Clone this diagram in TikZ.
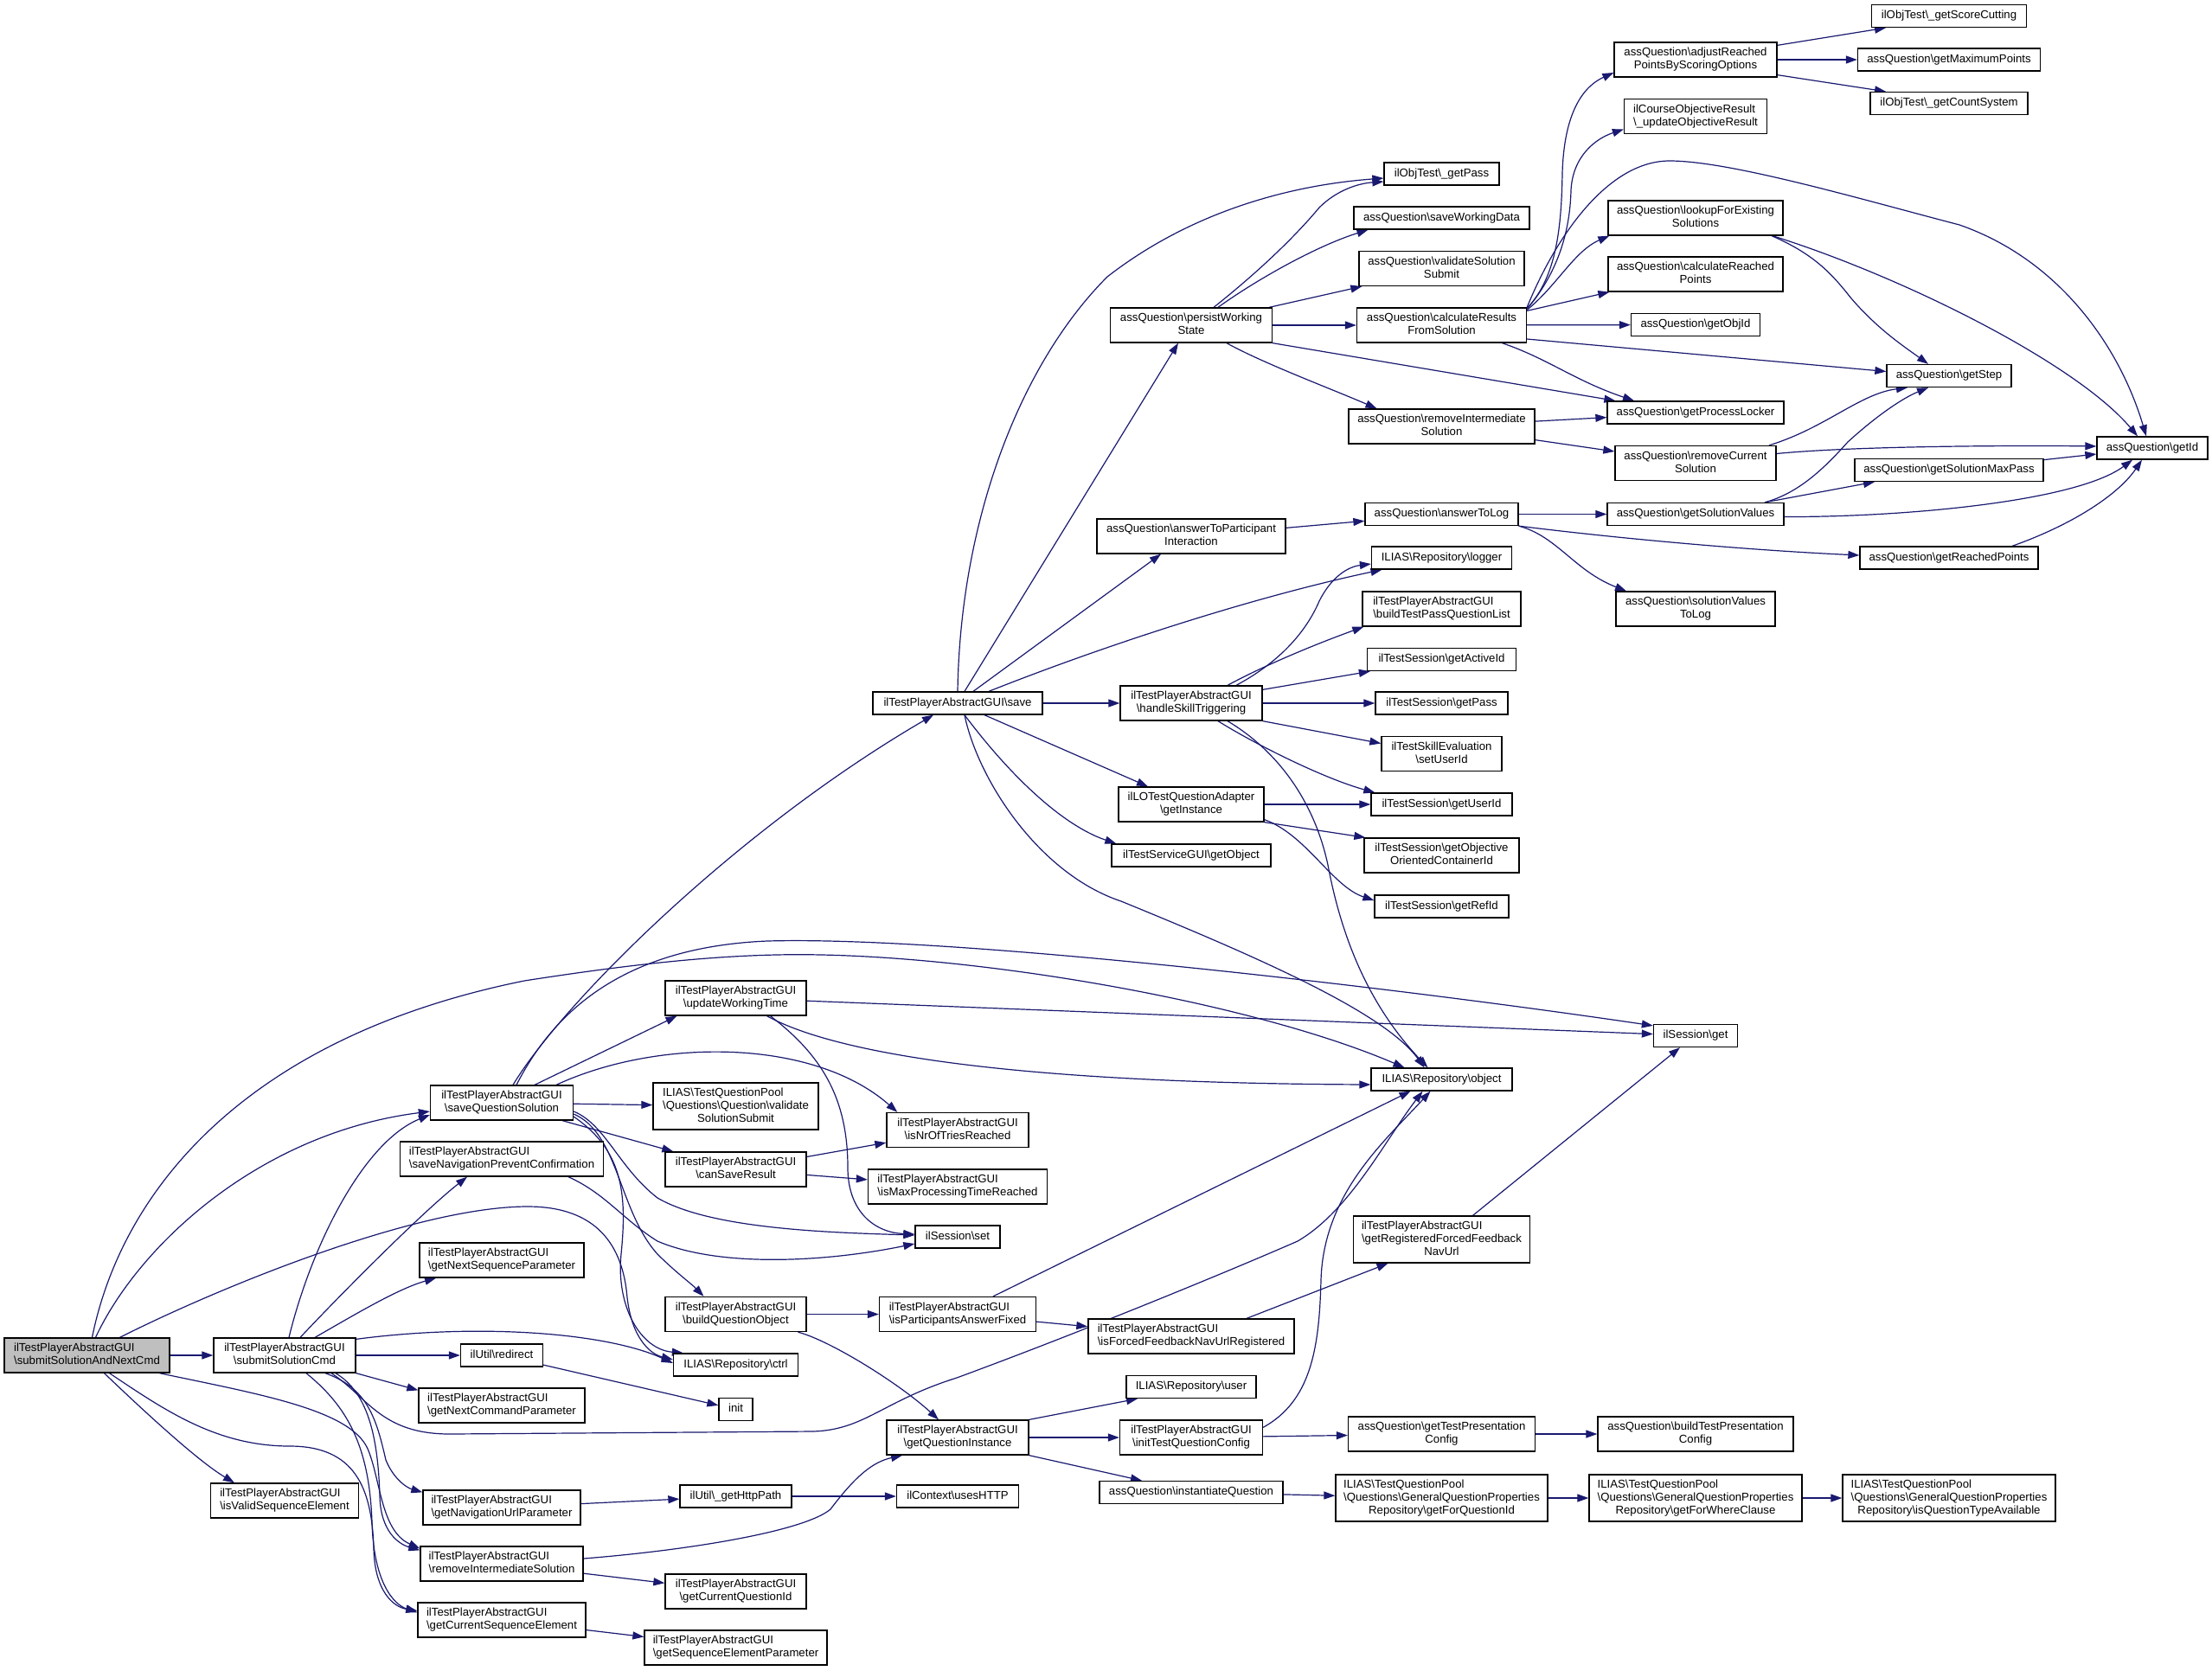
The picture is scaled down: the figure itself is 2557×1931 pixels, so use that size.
\documentclass[tikz,border=0pt]{standalone}
\usepackage{fontspec}
\setmainfont{Liberation Sans}
\usetikzlibrary{arrows.meta}
\definecolor{edgeblue}{HTML}{191970}
\definecolor{rootgray}{HTML}{BFBFBF}
\newcommand{\bs}{\textbackslash}
\newlength\lwA\newlength\lwB
\newcommand\TL[2]{\settowidth\lwA{#1}\settowidth\lwB{#2}\ifdim\lwB>\lwA\lwA=\lwB\fi\begin{tabular}{@{}l@{}}#1\\\makebox[\lwA][c]{#2}\end{tabular}}
\newcommand\TLL[3]{\settowidth\lwA{#1}\settowidth\lwB{#2}\ifdim\lwB>\lwA\lwA=\lwB\fi\settowidth\lwB{#3}\ifdim\lwB>\lwA\lwA=\lwB\fi\begin{tabular}{@{}l@{}}#1\\#2\\\makebox[\lwA][c]{#3}\end{tabular}}
\newcommand\OL[1]{\begin{tabular}{@{}c@{}}#1\end{tabular}}
\pgfdeclarelayer{bgl}\pgfdeclarelayer{edges}\pgfsetlayers{bgl,edges,main}
\tikzset{
 box/.style={draw=black, line width=1.3pt, fill=white, inner sep=0pt, minimum height=26pt, font=\fontsize{13.2}{15}\selectfont},
 h2/.style={minimum height=40pt},
 h3/.style={minimum height=54pt},
 root/.style={fill=rootgray},
 edg/.style={draw=edgeblue, line width=1.2pt, -{Triangle[length=13pt,width=9pt]}},
}
\begin{document}
\begin{tikzpicture}[x=1pt,y=-1pt]
\useasboundingbox (0,0) rectangle (2557,1931);
\begin{pgfonlayer}{bgl}\fill[white] (0,0) rectangle (2557,1931);\end{pgfonlayer}
% column 0-2
\node[box,h2,root,minimum width=191] (A) at (100.5,1567) {\TL{ilTestPlayerAbstractGUI}{\bs submitSolutionAndNextCmd}};
\node[box,h2,minimum width=164] (sSC) at (329,1567) {\TL{ilTestPlayerAbstractGUI}{\bs submitSolutionCmd}};
\node[box,h2,minimum width=171] (isValid) at (329,1735) {\TL{ilTestPlayerAbstractGUI}{\bs isValidSequenceElement}};
\node[box,h2,minimum width=165] (saveQS) at (580,1275) {\TL{ilTestPlayerAbstractGUI}{\bs saveQuestionSolution}};
\node[box,h2,minimum width=235] (saveNav) at (580,1340) {\TL{ilTestPlayerAbstractGUI}{\bs saveNavigationPreventConfirmation}};
\node[box,h2,minimum width=190] (getNextSeq) at (580,1457) {\TL{ilTestPlayerAbstractGUI}{\bs getNextSequenceParameter}};
\node[box,minimum width=95] (redirect) at (580,1567) {\OL{ilUtil\bs redirect}};
\node[box,h2,minimum width=192] (getNextCmd) at (580,1625) {\TL{ilTestPlayerAbstractGUI}{\bs getNextCommandParameter}};
\node[box,h2,minimum width=182] (getNavUrl) at (580,1743) {\TL{ilTestPlayerAbstractGUI}{\bs getNavigationUrlParameter}};
\node[box,h2,minimum width=188] (removeIS) at (580,1808) {\TL{ilTestPlayerAbstractGUI}{\bs removeIntermediateSolution}};
\node[box,h2,minimum width=194] (getCurSeq) at (580,1873) {\TL{ilTestPlayerAbstractGUI}{\bs getCurrentSequenceElement}};
% column 3
\node[box,h2,minimum width=163] (updWT) at (850.5,1154) {\TL{ilTestPlayerAbstractGUI}{\bs updateWorkingTime}};
\node[box,h3,minimum width=191] (validate) at (850.5,1279) {\TLL{ILIAS\bs TestQuestionPool}{\bs Questions\bs Question\bs validate}{SolutionSubmit}};
\node[box,h2,minimum width=163] (canSave) at (850.5,1352) {\TL{ilTestPlayerAbstractGUI}{\bs canSaveResult}};
\node[box,h2,minimum width=163] (buildQO) at (850.5,1519.5) {\TL{ilTestPlayerAbstractGUI}{\bs buildQuestionObject}};
\node[box,minimum width=144] (ctrl) at (850.5,1578) {\OL{ILIAS\bs Repository\bs ctrl}};
\node[box,minimum width=39] (init) at (850.5,1629.5) {\OL{init}};
\node[box,minimum width=129] (httpPath) at (850.5,1730) {\OL{ilUtil\bs\_getHttpPath}};
\node[box,h2,minimum width=163] (curQId) at (850.5,1840) {\TL{ilTestPlayerAbstractGUI}{\bs getCurrentQuestionId}};
\node[box,h2,minimum width=211] (seqElemParam) at (850.5,1905) {\TL{ilTestPlayerAbstractGUI}{\bs getSequenceElementParameter}};
% column 4
\node[box,minimum width=196] (save) at (1107,813) {\OL{ilTestPlayerAbstractGUI\bs save}};
\node[box,h2,minimum width=164] (nrTries) at (1107,1306.5) {\TL{ilTestPlayerAbstractGUI}{\bs isNrOfTriesReached}};
\node[box,h2,minimum width=207] (maxProc) at (1107,1372) {\TL{ilTestPlayerAbstractGUI}{\bs isMaxProcessingTimeReached}};
\node[box,minimum width=98] (set) at (1107,1430) {\OL{ilSession\bs set}};
\node[box,h2,minimum width=181] (partFixed) at (1107,1519.5) {\TL{ilTestPlayerAbstractGUI}{\bs isParticipantsAnswerFixed}};
\node[box,h2,minimum width=164] (getQI) at (1107,1662) {\TL{ilTestPlayerAbstractGUI}{\bs getQuestionInstance}};
\node[box,minimum width=141] (usesHTTP) at (1107,1730) {\OL{ilContext\bs usesHTTP}};
% column 5
\node[box,h2,minimum width=187] (persist) at (1377,376) {\TL{assQuestion\bs persistWorking}{State}};
\node[box,h2,minimum width=218] (ansPart) at (1377,620) {\TL{assQuestion\bs answerToParticipant}{Interaction}};
\node[box,h2,minimum width=164] (handleSkill) at (1377,813) {\TL{ilTestPlayerAbstractGUI}{\bs handleSkillTriggering}};
\node[box,h2,minimum width=168] (loAdapter) at (1377,930) {\TL{ilLOTestQuestionAdapter}{\bs getInstance}};
\node[box,minimum width=184] (getObject) at (1377,989) {\OL{ilTestServiceGUI\bs getObject}};
\node[box,h2,minimum width=238] (isForced) at (1377,1545) {\TL{ilTestPlayerAbstractGUI}{\bs isForcedFeedbackNavUrlRegistered}};
\node[box,minimum width=150] (user) at (1377,1603.5) {\OL{ILIAS\bs Repository\bs user}};
\node[box,h2,minimum width=165] (initTQC) at (1377,1662) {\TL{ilTestPlayerAbstractGUI}{\bs initTestQuestionConfig}};
\node[box,minimum width=212] (instantiate) at (1377,1725.5) {\OL{assQuestion\bs instantiateQuestion}};
% column 6
\node[box,minimum width=133] (objGetPass) at (1666.5,201) {\OL{ilObjTest\bs\_getPass}};
\node[box,minimum width=203] (saveWD) at (1666.5,252) {\OL{assQuestion\bs saveWorkingData}};
\node[box,h2,minimum width=191] (valSS) at (1666.5,310.5) {\TL{assQuestion\bs validateSolution}{Submit}};
\node[box,h2,minimum width=196] (calcRes) at (1666.5,376) {\TL{assQuestion\bs calculateResults}{FromSolution}};
\node[box,h2,minimum width=215] (remIntAQ) at (1666.5,493) {\TL{assQuestion\bs removeIntermediate}{Solution}};
\node[box,minimum width=177] (ansLog) at (1666.5,594.5) {\OL{assQuestion\bs answerToLog}};
\node[box,minimum width=162] (logger) at (1666.5,645) {\OL{ILIAS\bs Repository\bs logger}};
\node[box,h2,minimum width=183] (buildTPQL) at (1666.5,704) {\TL{ilTestPlayerAbstractGUI}{\bs buildTestPassQuestionList}};
\node[box,minimum width=172] (activeId) at (1666.5,762.5) {\OL{ilTestSession\bs getActiveId}};
\node[box,minimum width=153] (tsGetPass) at (1666.5,813) {\OL{ilTestSession\bs getPass}};
\node[box,h2,minimum width=139] (setUserId) at (1666.5,871.5) {\TL{ilTestSkillEvaluation}{\bs setUserId}};
\node[box,minimum width=163] (getUserId) at (1666.5,930) {\OL{ilTestSession\bs getUserId}};
\node[box,h2,minimum width=179] (getObjective) at (1666.5,989) {\TL{ilTestSession\bs getObjective}{OrientedContainerId}};
\node[box,minimum width=155] (getRefId) at (1666.5,1048) {\OL{ilTestSession\bs getRefId}};
\node[box,minimum width=163] (object) at (1666.5,1248) {\OL{ILIAS\bs Repository\bs object}};
\node[box,h3,minimum width=204] (getRegForced) at (1666.5,1433) {\TLL{ilTestPlayerAbstractGUI}{\bs getRegisteredForcedFeedback}{NavUrl}};
\node[box,h2,minimum width=216] (getTPC) at (1666.5,1658) {\TL{assQuestion\bs getTestPresentation}{Config}};
\node[box,h3,minimum width=245] (getForQ) at (1666.5,1732) {\TLL{ILIAS\bs TestQuestionPool}{\bs Questions\bs GeneralQuestionProperties}{Repository\bs getForQuestionId}};
% column 7
\node[box,h2,minimum width=188] (adjust) at (1960,69) {\TL{assQuestion\bs adjustReached}{PointsByScoringOptions}};
\node[box,h2,minimum width=165] (courseObj) at (1960,134.5) {\TL{ilCourseObjectiveResult}{\bs\_updateObjectiveResult}};
\node[box,h2,minimum width=202] (lookup) at (1960,252) {\TL{assQuestion\bs lookupForExisting}{Solutions}};
\node[box,h2,minimum width=202] (calcReached) at (1960,317) {\TL{assQuestion\bs calculateReached}{Points}};
\node[box,minimum width=149] (getObjId) at (1960,375.5) {\OL{assQuestion\bs getObjId}};
\node[box,minimum width=204] (procLocker) at (1960,477) {\OL{assQuestion\bs getProcessLocker}};
\node[box,h2,minimum width=186] (remCur) at (1960,535.5) {\TL{assQuestion\bs removeCurrent}{Solution}};
\node[box,minimum width=204] (solValues) at (1960,594.5) {\OL{assQuestion\bs getSolutionValues}};
\node[box,h2,minimum width=184] (solToLog) at (1960,704) {\TL{assQuestion\bs solutionValues}{ToLog}};
\node[box,minimum width=97] (sessGet) at (1960,1197.5) {\OL{ilSession\bs get}};
\node[box,h2,minimum width=226] (buildTPC) at (1960,1658) {\TL{assQuestion\bs buildTestPresentation}{Config}};
\node[box,h3,minimum width=246] (getForWhere) at (1960,1732) {\TLL{ILIAS\bs TestQuestionPool}{\bs Questions\bs GeneralQuestionProperties}{Repository\bs getForWhereClause}};
% column 8-9
\node[box,minimum width=179] (scoreCut) at (2253,18.5) {\OL{ilObjTest\bs\_getScoreCutting}};
\node[box,minimum width=211] (maxPts) at (2253,69) {\OL{assQuestion\bs getMaximumPoints}};
\node[box,minimum width=182] (countSys) at (2253,119.5) {\OL{ilObjTest\bs\_getCountSystem}};
\node[box,minimum width=144] (getStep) at (2253,434.5) {\OL{assQuestion\bs getStep}};
\node[box,minimum width=218] (solMaxPass) at (2253,543.5) {\OL{assQuestion\bs getSolutionMaxPass}};
\node[box,minimum width=206] (reachedPts) at (2253,645) {\OL{assQuestion\bs getReachedPoints}};
\node[box,h3,minimum width=246] (isQTA) at (2253,1732) {\TLL{ILIAS\bs TestQuestionPool}{\bs Questions\bs GeneralQuestionProperties}{Repository\bs isQuestionTypeAvailable}};
\node[box,minimum width=128] (getId) at (2488,518) {\OL{assQuestion\bs getId}};

\begin{pgfonlayer}{edges}
% from root
\draw[edg] (A) -- (sSC);
\draw[edg] ([xshift=10]A.north) .. controls (160,1440) and (300,1310) .. ([yshift=-10]saveQS.west);
\draw[edg] ([xshift=6]A.north) .. controls (140,1380) and (280,1200) .. (606,1134) .. controls (760,1110) and (860,1102) .. (950,1104) .. controls (1150,1108) and (1450,1160) .. ([xshift=-43]object.north);
\draw[edg] ([xshift=38]A.north) .. controls (250,1490) and (480,1395) .. (610,1395) .. controls (690,1395) and (720,1440) .. (725,1500) .. controls (730,1545) and (750,1565) .. ([yshift=6]ctrl.west);
\draw[edg] ([xshift=20]A.south) .. controls (170,1635) and (230,1690) .. ([xshift=-58]isValid.north);
\draw[edg] ([xshift=84]A.south) .. controls (300,1612) and (405,1630) .. (425,1675) .. controls (440,1710) and (440,1770) .. ([yshift=-3]removeIS.north west);
\draw[edg] ([xshift=26]A.south) .. controls (190,1630) and (250,1672) .. (335,1672) .. controls (410,1672) and (430,1720) .. (432,1790) .. controls (433,1840) and (455,1858) .. ([yshift=-10]getCurSeq.north west);
% from submitSolutionCmd
\draw[edg] ([xshift=5]sSC.north) .. controls (360,1440) and (420,1320) .. ([yshift=-14]saveQS.west);
\draw[edg] ([xshift=18]sSC.north) .. controls (400,1490) and (490,1400) .. ([xshift=-40]saveNav.south);
\draw[edg] ([xshift=35]sSC.north) .. controls (410,1520) and (460,1490) .. ([xshift=-76]getNextSeq.south);
\draw[edg] ([yshift=-2]sSC.north east) .. controls (550,1530) and (700,1540) .. ([yshift=2]ctrl.west);
\draw[edg] (sSC) -- (redirect);
\draw[edg] (sSC.south east) -- ([yshift=-3]getNextCmd.north west);
\draw[edg] ([xshift=47]sSC.south) .. controls (425,1605) and (435,1640) .. (446,1688) .. controls (455,1710) and (470,1720) .. ([yshift=-3]getNavUrl.north west);
\draw[edg] ([xshift=59]sSC.south) .. controls (425,1610) and (437,1660) .. (439,1730) .. controls (440,1770) and (460,1785) .. ([yshift=-5]removeIS.north west);
\draw[edg] ([xshift=25]sSC.south) .. controls (400,1625) and (427,1670) .. (430,1760) .. controls (432,1830) and (455,1855) .. ([yshift=-12]getCurSeq.north west);
\draw[edg] ([xshift=54]sSC.south) .. controls (425,1615) and (440,1658) .. (520,1658) -- (940,1655) .. controls (1000,1653) and (1020,1620) .. (1106,1593) .. controls (1250,1540) and (1420,1470) .. (1500,1435) .. controls (1560,1400) and (1600,1320) .. ([xshift=-22]object.south);
% from saveQuestionSolution
\draw[edg] ([xshift=13]saveQS.north) .. controls (650,1160) and (850,960) .. ([xshift=-28]save.south);
\draw[edg] ([xshift=17]saveQS.north) .. controls (640,1170) and (720,1095) .. (887,1088) .. controls (1100,1082) and (1600,1140) .. ([yshift=-2]sessGet.north west);
\draw[edg] ([xshift=38]saveQS.north) -- ([xshift=-68]updWT.south);
\draw[edg] ([xshift=63]saveQS.north) .. controls (760,1200) and (940,1200) .. ([xshift=13]nrTries.north west);
\draw[edg] (saveQS) -- (validate);
\draw[edg] ([xshift=-13]saveQS.south east) -- ([xshift=10]canSave.north west);
\draw[edg] ([yshift=-10]saveQS.east) .. controls (700,1300) and (715,1350) .. (760,1385) .. controls (820,1420) and (950,1425) .. ([yshift=2]set.west);
\draw[edg] ([yshift=-13]saveQS.east) .. controls (715,1310) and (715,1400) .. (760,1450) .. controls (780,1470) and (800,1485) .. ([xshift=-37]buildQO.north);
\draw[edg] ([yshift=-16]saveQS.east) .. controls (720,1330) and (725,1380) .. (718,1450) .. controls (712,1510) and (740,1560) .. ([xshift=12]ctrl.north west);
% others left part
\draw[edg] ([xshift=77]saveNav.south) .. controls (700,1380) and (720,1410) .. (760,1435) .. controls (830,1465) and (950,1460) .. ([yshift=-8]set.west);
\draw[edg] (getNavUrl) -- (httpPath);
\draw[edg] ([yshift=6]removeIS.east) .. controls (800,1792) and (930,1770) .. (960,1745) .. controls (990,1705) and (1010,1690) .. ([xshift=-64]getQI.south);
\draw[edg] (removeIS) -- (curQId);
\draw[edg] (getCurSeq) -- (seqElemParam);
\draw[edg] (redirect) -- (init);
\draw[edg] (updWT) -- (sessGet);
\draw[edg] ([xshift=36]updWT.south) .. controls (960,1215) and (1150,1252) .. ([yshift=-6]object.west);
\draw[edg] ([xshift=40]updWT.south) .. controls (950,1220) and (980,1270) .. (980,1350) .. controls (980,1400) and (1010,1425) .. ([yshift=3]set.west);
\draw[edg] (canSave) -- (nrTries);
\draw[edg] (canSave) -- (maxProc);
\draw[edg] (buildQO) -- (partFixed);
\draw[edg] ([xshift=72]buildQO.south) .. controls (960,1550) and (1040,1600) .. ([xshift=-22]getQI.north);
\draw[edg] (partFixed) -- (isForced);
\draw[edg] ([xshift=41]partFixed.north) -- ([xshift=-36]object.south);
\draw[edg] ([xshift=64]isForced.north) -- ([xshift=-62]getRegForced.south);
\draw[edg] ([xshift=36]getRegForced.north) -- ([xshift=-18]sessGet.south);
\draw[edg] (getQI.north east) -- ([xshift=-62]user.south);
\draw[edg] (getQI) -- (initTQC);
\draw[edg] (getQI.south east) -- ([xshift=-57]instantiate.north);
\draw[edg] (initTQC) -- (getTPC);
\draw[edg] ([yshift=-9]initTQC.north east) .. controls (1515,1620) and (1525,1560) .. (1527,1480) .. controls (1530,1380) and (1600,1320) .. ([xshift=-13]object.south);
\draw[edg] (instantiate) -- (getForQ);
\draw[edg] (getTPC) -- (buildTPC);
\draw[edg] (getForQ) -- (getForWhere);
\draw[edg] (getForWhere) -- (isQTA);
\draw[edg] (httpPath) -- (usesHTTP);
% from save
\draw[edg] ([xshift=8]save.north) -- ([xshift=-15]persist.south);
\draw[edg] (save.north) .. controls (1110,600) and (1180,420) .. (1280,320) .. controls (1370,250) and (1480,215) .. ([yshift=-5]objGetPass.west);
\draw[edg] ([xshift=18]save.north) -- ([xshift=-35]ansPart.south);
\draw[edg] ([xshift=36]save.north) .. controls (1280,745) and (1450,690) .. ([xshift=-69]logger.south);
\draw[edg] (save) -- (handleSkill);
\draw[edg] ([xshift=31]save.south) -- ([xshift=-50]loAdapter.north);
\draw[edg] ([xshift=8]save.south) .. controls (1170,900) and (1230,955) .. ([xshift=6]getObject.north west);
\draw[edg] ([xshift=8]save.south) .. controls (1130,900) and (1200,1010) .. (1296,1042) .. controls (1450,1105) and (1600,1170) .. ([xshift=-20]object.north);
% from persistWorkingState
\draw[edg] ([xshift=26]persist.north) .. controls (1460,310) and (1500,270) .. (1525,240) .. controls (1545,220) and (1570,212) .. ([yshift=-9]objGetPass.west);
\draw[edg] ([xshift=31]persist.north) .. controls (1450,325) and (1520,285) .. ([xshift=-85]saveWD.south);
\draw[edg] ([xshift=-4]persist.north east) -- ([xshift=4]valSS.south west);
\draw[edg] (persist) -- (calcRes);
\draw[edg] (persist.south east) -- ([xshift=10]procLocker.north west);
\draw[edg] ([xshift=41]persist.south) .. controls (1460,420) and (1540,450) .. ([xshift=-75]remIntAQ.north);
% from calculateResultsFromSolution
\draw[edg] ([yshift=-1]calcRes.north east) .. controls (1800,320) and (1805,260) .. (1806,200) .. controls (1808,130) and (1830,100) .. ([yshift=-15]adjust.west);
\draw[edg] ([yshift=-2]calcRes.north east) .. controls (1805,310) and (1815,260) .. (1816,220) .. controls (1818,180) and (1845,160) .. ([yshift=-15]courseObj.west);
\draw[edg] (calcRes.north east) .. controls (1800,270) and (1860,186) .. (1930,186) .. controls (2000,186) and (2150,230) .. (2265,260) .. controls (2380,300) and (2450,400) .. ([xshift=-7]getId.north);
\draw[edg] ([yshift=-3]calcRes.north east) .. controls (1800,330) and (1820,290) .. ([xshift=2]lookup.south west);
\draw[edg] ([yshift=-4]calcRes.north east) -- ([xshift=2]calcReached.south west);
\draw[edg] (calcRes) -- (getObjId);
\draw[edg] ([yshift=-16]calcRes.east) -- ([yshift=5]getStep.west);
\draw[edg] ([xshift=70]calcRes.south) .. controls (1790,415) and (1820,440) .. ([xshift=-71]procLocker.north);
\draw[edg] (remIntAQ) -- (procLocker);
\draw[edg] (remIntAQ) -- (remCur);
\draw[edg] ([xshift=88]lookup.south) .. controls (2100,295) and (2120,320) .. (2140,345) .. controls (2170,380) and (2200,400) .. ([xshift=-24]getStep.north);
\draw[edg] ([xshift=89]lookup.south) .. controls (2200,320) and (2400,420) .. ([xshift=-17]getId.north);
\draw[edg] ([xshift=85]remCur.north) .. controls (2110,495) and (2150,455) .. ([xshift=-48]getStep.south);
\draw[edg] ([yshift=11]remCur.east) .. controls (2150,515) and (2350,515) .. ([yshift=2]getId.west);
\draw[edg] (solMaxPass) -- (getId);
\draw[edg] ([xshift=80]solValues.north) .. controls (2080,570) and (2110,540) .. (2136,511) .. controls (2170,480) and (2200,460) .. ([xshift=-24]getStep.south);
\draw[edg] ([xshift=80]solValues.north) -- ([xshift=-86]solMaxPass.south);
\draw[edg] ([yshift=-3]solValues.east) .. controls (2200,598) and (2400,580) .. ([xshift=-23]getId.south);
\draw[edg] ([xshift=73]reachedPts.north) .. controls (2400,605) and (2450,570) .. ([xshift=-12]getId.south);
\draw[edg] (ansLog) -- (solValues);
\draw[edg] (ansLog.south east) .. controls (1850,620) and (2000,635) .. ([yshift=3]reachedPts.west);
\draw[edg] (ansLog.south east) .. controls (1800,620) and (1820,660) .. ([xshift=-80]solToLog.north);
\draw[edg] (ansPart) -- (ansLog);
% from handleSkillTriggering
\draw[edg] ([xshift=52]handleSkill.north) .. controls (1480,765) and (1510,730) .. (1525,695) .. controls (1540,665) and (1560,655) .. ([yshift=-7]logger.west);
\draw[edg] ([xshift=42]handleSkill.north) .. controls (1460,770) and (1520,745) .. ([xshift=2]buildTPQL.south west);
\draw[edg] ([yshift=-5]handleSkill.north east) -- ([xshift=4]activeId.south west);
\draw[edg] (handleSkill) -- (tsGetPass);
\draw[edg] (handleSkill.south east) -- ([yshift=12]setUserId.west);
\draw[edg] ([xshift=31]handleSkill.south) .. controls (1450,860) and (1530,900) .. ([xshift=5]getUserId.north west);
\draw[edg] ([xshift=42]handleSkill.south) .. controls (1480,870) and (1520,930) .. (1535,1000) .. controls (1550,1080) and (1580,1160) .. ([xshift=-16]object.north);
% from LO adapter
\draw[edg] (loAdapter) -- (getUserId);
\draw[edg] (loAdapter.south east) -- ([xshift=2]getObjective.north west);
\draw[edg] ([yshift=3]loAdapter.south east) .. controls (1510,965) and (1540,1025) .. ([yshift=7]getRefId.west);
% from adjustReached
\draw[edg] ([yshift=-4]adjust.north east) -- ([xshift=-73]scoreCut.south);
\draw[edg] (adjust) -- (maxPts);
\draw[edg] ([yshift=3]adjust.south east) -- ([xshift=-73]countSys.north);
\end{pgfonlayer}
\end{tikzpicture}
\end{document}
